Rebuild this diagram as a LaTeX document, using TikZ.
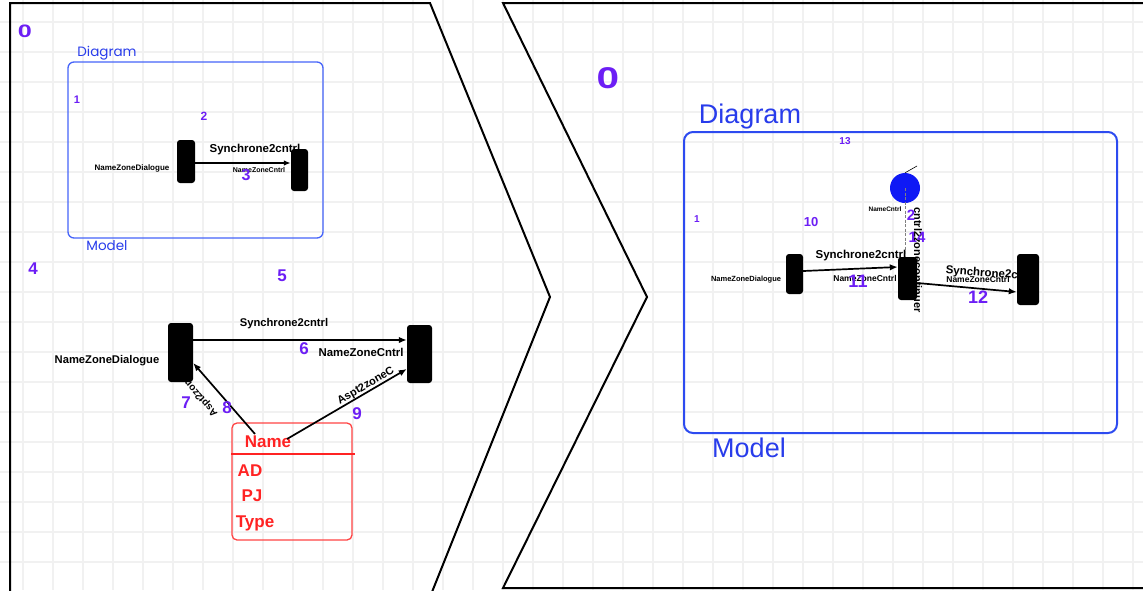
\documentclass[tikz,border=0pt]{standalone}
\usepackage{fontspec}
\usepackage{graphicx}
\setmainfont{Liberation Sans}
\newfontfamily\poppins{Poppins}
\usetikzlibrary{arrows.meta}
\definecolor{numc}{RGB}{108,30,245}
\definecolor{boxblue}{RGB}{70,100,250}
\definecolor{bigblue}{RGB}{45,75,240}
\definecolor{txtblue}{RGB}{40,60,235}
\definecolor{entred}{RGB}{255,35,35}
\definecolor{gridc}{RGB}{241,241,241}
\definecolor{dotblue}{RGB}{15,25,245}
\newcommand\fsz[1]{\fontsize{#1}{#1}\selectfont}

\begin{document}
\begin{tikzpicture}[x=1pt,y=-1pt,
  num/.style={text=numc,font=\bfseries\fsz{#1},inner sep=0pt},
  lbl/.style={font=\bfseries\fsz{#1},inner sep=0pt},
  bar/.style={fill=black,rounded corners=3pt,inner sep=0pt},
  link/.style={-{Latex[length=8pt,width=6.5pt]},line width=1.7pt},
  slink/.style={-{Latex[length=7pt,width=5.5pt]},line width=1.4pt},
  chev/.style={line width=2pt,line join=miter},
  redtxt/.style={text=entred,font=\bfseries\fsz{17},inner sep=0pt},
  pane/.style={rounded corners=#1,inner sep=0pt},
]
% canvas and grid
\fill[white] (0,0) rectangle (1143,590);
\useasboundingbox (0,0) rectangle (1143,590);
\foreach \x in {23,53,...,1133} \draw[gridc,line width=1.3pt] (\x,0) -- (\x,590);
\foreach \y in {22,52,...,582} \draw[gridc,line width=1.3pt] (0,\y) -- (1143,\y);

% the two chevron panels
\draw[chev] (10,592) -- (10,3) -- (430,3) -- (550,297) -- (432,592);
\draw[chev] (1146,3) -- (503,3) -- (647,297) -- (503,588) -- (1146,588);

% ---------- left panel, small diagram ----------
\node[pane=6pt,draw=boxblue,line width=1.3pt,minimum width=255pt,minimum height=176pt] (dg1) at (195.5,150) {};
\node[text=txtblue,font=\poppins\fsz{13.5},inner sep=0pt] (dgt1) at (107,53) {Diagram};
\node[text=txtblue,font=\poppins\fsz{13.5},inner sep=0pt] (mdt1) at (107,246) {Model};
\node[num=18] (n0a) at (25,31) {\scalebox{1.4}[1]{0}};
\node[num=11] (n1a) at (77,100) {1};
\node[num=12] (n2a) at (204,116) {2};
\node[lbl=11.5] (syn1) at (255,150) {Synchrone2cntrl};
\node[lbl=8] (nzd1) at (132,168) {NameZoneDialogue};
\node[lbl=7] (nzc1) at (259,170) {NameZoneCntrl};
\node[bar,minimum width=18pt,minimum height=43pt] (zd1) at (186,161.5) {};
\node[bar,minimum width=17pt,minimum height=42pt] (zc1) at (299.5,170) {};
\draw[slink] ([yshift=-1.5pt]zd1.east) -- ([yshift=7pt]zc1.west);
\node[num=16] (n3a) at (246,175) {3};

% ---------- left panel, main diagram ----------
\node[num=17] (n4) at (33,269) {4};
\node[num=17] (n5) at (282,276) {5};
\node[lbl=11.2] (syn2) at (284,324) {Synchrone2cntrl};
\node[lbl=11.2] (nzd2) at (107,361) {NameZoneDialogue};
\node[lbl=11.4] (nzc2) at (361,352) {NameZoneCntrl};

% entity box
\node[pane=5pt,draw=entred!85,line width=1.3pt,minimum width=120pt,minimum height=117pt] (ent) at (292,481.5) {};
\draw[entred,line width=1.8pt] ([yshift=27.5pt]ent.west) -- ([yshift=27.5pt,xshift=2pt]ent.east);
\node[redtxt] (eName) at (268,442) {Name};
\node[redtxt] (eAD) at (250,471) {AD};
\node[redtxt] (ePJ) at (252,496) {PJ};
\node[redtxt] (eType) at (255,523) {Type};
\coordinate (srcD) at (255,434);
\coordinate (srcC) at (287,439);

\node[lbl=10,rotate=131] (aspD) at (197,393) {Aspt2zoneD};
\node[lbl=11,rotate=30] (aspC) at (366,386) {Aspt2zoneC};

\node[bar,minimum width=25pt,minimum height=59pt] (zd2) at (180.5,352.5) {};
\node[bar,minimum width=25pt,minimum height=58pt] (zc2) at (419.5,354) {};
\draw[link] ([yshift=12.5pt]zd2.east) -- ([yshift=14pt]zc2.west);
\draw[link] (srcD) -- ([yshift=-10.5pt]zd2.east);
\draw[link] (srcC) -- ([yshift=-15pt]zc2.west);

\node[num=17] (n6) at (304,349) {6};
\node[num=17] (n7) at (186,403) {7};
\node[num=17] (n8) at (227,408) {8};
\node[num=17] (n9) at (357,414) {9};

% ---------- right panel ----------
\node[num=30] (n0b) at (608,78) {\scalebox{1.35}[1]{0}};
\node[text=txtblue,font=\fsz{27},inner sep=0pt] (dgt2) at (750,117) {Diagram};
\node[pane=9pt,draw=bigblue,line width=2pt,minimum width=433pt,minimum height=301pt] (dg2) at (900.5,282.5) {};
\node[text=txtblue,font=\fsz{27},inner sep=0pt] (mdt2) at (749,448) {Model};
\node[num=10] (n13) at (845,141) {13};
\node[num=10] (n1b) at (697,219) {1};
\node[num=13] (n10) at (811,222) {10};

\node[circle,fill=dotblue,minimum size=30pt,inner sep=0pt] (ctl) at (905,188) {};
\coordinate (tick) at (917,166);
\draw[line width=0.6pt] (ctl.north) -- (tick);
\node[lbl=6.5] (ncl) at (885,209) {NameCntrl};

\node[lbl=11.5] (syn3) at (861,256) {Synchrone2cntrl};
\node[lbl=7.5] (nzd3) at (746,280) {NameZoneDialogue};
\node[lbl=8.5] (nzc3) at (865,278) {NameZoneCntrl};
\node[lbl=11.5,rotate=-4] (syn4) at (991,274) {Synchrone2cntrl};
\node[lbl=8.5] (nzc4) at (978,279) {NameZoneCntrl};

\node[bar,minimum width=17pt,minimum height=40pt] (zA) at (794.5,274) {};
\node[bar,minimum width=19pt,minimum height=43pt] (zB) at (907.5,278.5) {};
\node[bar,minimum width=22pt,minimum height=51pt] (zC) at (1028,279.5) {};

\draw[gray,line width=0.6pt,dash pattern=on 3pt off 1.5pt] (ctl.center) -- (ctl.center |- zB.north);
\node[lbl=11,rotate=-90] (cont) at (918,260) {cntrl2zonecontinuer};

\draw[link] ([yshift=3pt]zA.east) -- ([yshift=11.5pt]zB.west);
\draw[link] ([yshift=-4.5pt]zB.east) -- ([yshift=-12.5pt]zC.west);

\node[num=15] (n2b) at (911,215) {2};
\node[num=15] (n14) at (917,237) {14};
\node[num=18] (n11) at (858,281) {11};
\node[num=18] (n12) at (978,297) {12};
\end{tikzpicture}
\end{document}
